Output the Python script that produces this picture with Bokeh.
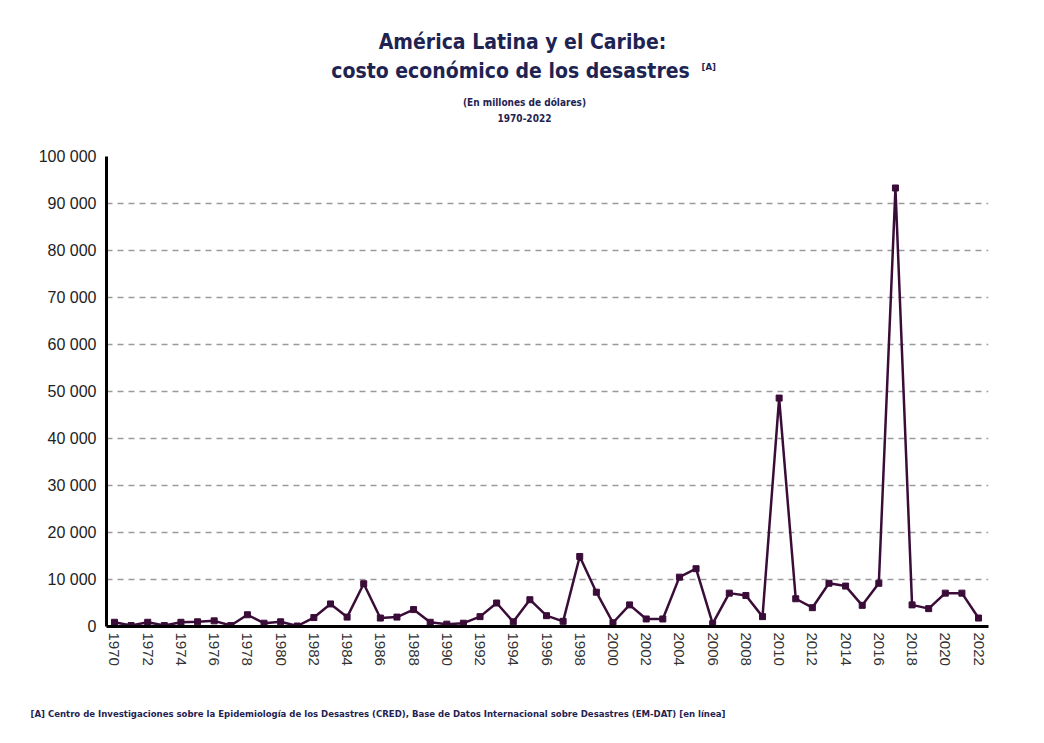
import math
from bokeh.plotting import figure
from bokeh.models import Range1d, FixedTicker, Title
from bokeh.layouts import column
from bokeh.core.properties import value
from bokeh.embed import file_html
from bokeh.resources import INLINE

years = list(range(1970, 2023))
costs = [900, 200, 900, 200, 900, 1000, 1200, 200, 2500, 700,
         1000, 100, 1900, 4800, 2000, 9100, 1800, 2000, 3600, 900,
         500, 700, 2100, 5000, 1000, 5700, 2300, 1100, 14900, 7300,
         800, 4600, 1600, 1600, 10500, 12300, 600, 7100, 6600, 2100,
         48600, 5900, 4000, 9200, 8600, 4500, 9200, 93300, 4600, 3800,
         7100, 7100, 1800]
x_ticks = list(range(1970, 2023, 2))
y_ticks = list(range(0, 100001, 10000))
y_tick_labels = {t: f"{t:,}".replace(",", " ") for t in y_ticks}

title1 = "América Latina y el Caribe:"
title2 = "costo económico de los desastres"
note_mark = "[A]"
subtitle1 = "(En millones de dólares)"
subtitle2 = "1970-2022"
source = ("[A] Centro de Investigaciones sobre la Epidemiología de los Desastres (CRED), "
          "Base de Datos Internacional sobre Desastres (EM-DAT) [en línea]")

NAVY = "#1f2352"
LINE = "#3a0c38"
TFONT = "Noto Sans Condensed, DejaVu Sans Condensed, Roboto Condensed, Roboto, sans-serif"

W = 1028
HEAD_H = 146
FRAME_L, FRAME_R = 106, 988   # frame edges (shared by the stacked figures)

# ---- header (titles) : its frame is aligned with the chart frame ----
head = figure(width=W, height=HEAD_H, output_backend="svg", toolbar_location=None,
              x_range=Range1d(FRAME_L, FRAME_R), y_range=Range1d(HEAD_H, 0),
              x_axis_type=None, y_axis_type=None, min_border=0)
head.outline_line_color = None
head.grid.visible = False
head.border_fill_color = "white"


def ptext(texts, xs, ys, size, align="center"):
    head.text(x=xs, y=ys, text=texts, text_align=align, text_baseline="middle",
              text_font=value(TFONT), text_font_size=value(size),
              text_font_style="bold", text_color=NAVY)


ptext([title1, title2], [522, 510], [41, 70], "21px")
ptext([note_mark], [701], [66], "9.5px", align="left")
ptext([subtitle1, subtitle2], [524, 524], [102, 117], "10px")

# ---- main chart ----
p = figure(width=W, height=727 - HEAD_H, output_backend="svg", toolbar_location=None,
           x_range=Range1d(1969.52, 2022.6), y_range=Range1d(0, 100000),
           min_border_left=FRAME_L, min_border_right=W - FRAME_R, min_border_top=10,
           min_border_bottom=101)
p.outline_line_color = None
p.background_fill_color = "white"
p.border_fill_color = "white"

p.xgrid.grid_line_color = None
p.ygrid.ticker = FixedTicker(ticks=y_ticks)
p.ygrid.grid_line_color = "#9a9a9a"
p.ygrid.grid_line_width = 1.5
p.ygrid.grid_line_dash = "6 5"

p.xaxis.ticker = FixedTicker(ticks=x_ticks)
p.xaxis.major_label_orientation = -math.pi / 2
p.xaxis.major_label_text_font = "Liberation Sans"
p.xaxis.major_label_text_font_size = "15px"
p.xaxis.major_label_text_color = "#333333"
p.xaxis.major_label_standoff = 6

p.yaxis.ticker = FixedTicker(ticks=y_ticks)
p.yaxis.major_label_overrides = y_tick_labels
p.yaxis.major_label_text_font = "Liberation Sans"
p.yaxis.major_label_text_font_size = "16px"
p.yaxis.major_label_text_color = "#222222"
p.yaxis.major_label_standoff = 10

for ax in (p.xaxis, p.yaxis):
    ax.axis_line_width = 3
    ax.axis_line_color = "black"
    ax.major_tick_line_color = None
    ax.minor_tick_line_color = None
    ax.major_tick_out = 0
    ax.major_tick_in = 0

p.line(years, costs, line_color=LINE, line_width=2.5)
p.scatter(years, costs, marker="square", size=6, color=LINE)

# spacer row, then the source note below the axis
p.add_layout(Title(text=" ", text_font_size="30px", standoff=0), "below")
p.add_layout(Title(text=source, align="left", text_font=TFONT, text_font_size="9.5px",
                   text_font_style="bold", text_color=NAVY, standoff=4,
                   offset=30 - FRAME_L), "below")

layout = column(head, p, spacing=0)
open("out.html", "w").write(file_html(layout, INLINE))
